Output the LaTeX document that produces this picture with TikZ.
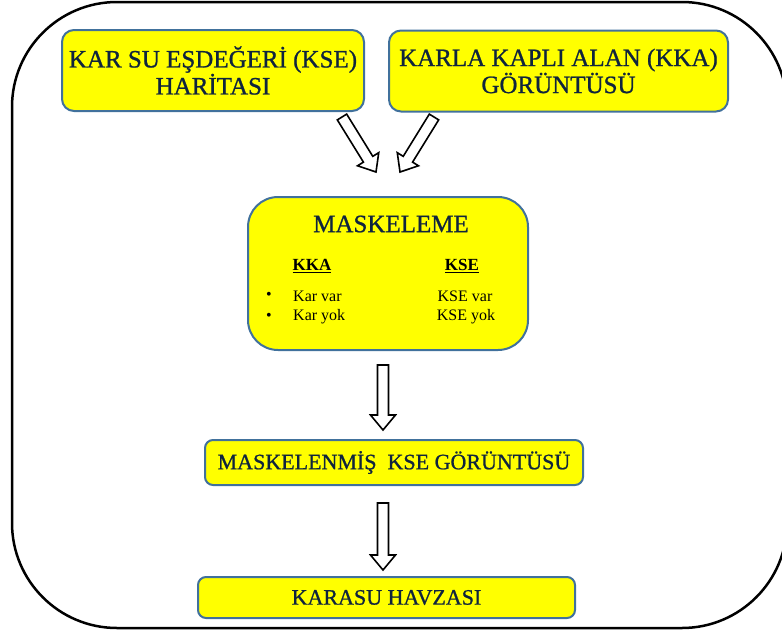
\documentclass[tikz,border=0pt]{standalone}
\usepackage{fontspec}
\setmainfont{Liberation Serif}
\newfontfamily\heavyserif[FakeBold=0.9]{Liberation Serif}
\usepackage{xcolor}
\definecolor{boxyellow}{HTML}{FFFF00}
\definecolor{boxedge}{HTML}{41719C}
\definecolor{navytxt}{HTML}{0F243E}
\usetikzlibrary{calc}
\tikzset{
  holarr/.style={draw=black, line width=1.6pt, fill=white, line join=miter},
}
% hollow block arrow between two named points
\newcommand{\hollowarrow}[2]{%
  \draw[holarr] let \p1=($(#2)-(#1)$), \n1={atan2(\y1,\x1)}, \n2={veclen(\x1,\y1)} in
    [shift={(#1)}, rotate=\n1]
    (0pt,-5.5pt) -- ({\n2-15pt},-5.5pt) -- ({\n2-15pt},-12.5pt) -- (\n2,0pt)
    -- ({\n2-15pt},12.5pt) -- ({\n2-15pt},5.5pt) -- (0pt,5.5pt) -- cycle;}

\begin{document}
\begin{tikzpicture}[
    x=1pt, y=-1pt,
    ybox/.style={draw=boxedge, line width=2pt, fill=boxyellow, align=center,
                 text=navytxt, inner sep=0pt},
    small/.style={font=\fontsize{16}{18}\selectfont, text=black, inner sep=0pt},
  ]
    \useasboundingbox (0,0) rectangle (782,632);

    % dis cerceve
    \draw[line width=2.5pt, rounded corners=105pt] (12,2) rectangle (787,628);

    % ust kutular
    \node[ybox, rounded corners=12pt, minimum width=302pt, minimum height=81pt,
          font=\heavyserif\fontsize{25}{27}\selectfont] (kse) at (213, 70.5)
          {KAR SU EŞDEĞERİ (KSE)\\HARİTASI};
    \node[ybox, rounded corners=12pt, minimum width=339pt, minimum height=81pt,
          font=\heavyserif\fontsize{25}{27}\selectfont] (kka) at (558.5, 71)
          {KARLA KAPLI ALAN (KKA)\\GÖRÜNTÜSÜ};

    % maskeleme
    \node[ybox, rounded corners=30pt, minimum width=280pt, minimum height=153pt]
          (mask) at (388, 273.5) {};
    \node[text=navytxt, font=\heavyserif\fontsize{25}{27}\selectfont, inner sep=0pt]
          (masktitle) at (391, 224) {MASKELEME};
    \node[small, font=\fontsize{17}{19}\selectfont\bfseries] (kkahead) at (312, 266) {\underline{KKA}};
    \node[small, font=\fontsize{17}{19}\selectfont\bfseries] (ksehead) at (462, 266) {\underline{KSE}};
    \node[small] (b1) at (269, 296) {•};
    \node[small] (b2) at (269, 317) {•};
    \node[small, anchor=west] (karvar) at (293, 296) {Kar var};
    \node[small, anchor=west] (karyok) at (293, 317) {Kar yok};
    \node[small] (ksevar) at (465, 296) {KSE var};
    \node[small] (kseyok) at (466, 317) {KSE yok};

    % alt kutular
    \node[ybox, rounded corners=8pt, minimum width=378pt, minimum height=45pt,
          font=\heavyserif\fontsize{22}{24}\selectfont] (masked) at (394, 462.5)
          {MASKELENMİŞ\ \ KSE GÖRÜNTÜSÜ};
    \node[ybox, rounded corners=8pt, minimum width=377pt, minimum height=41pt,
          font=\heavyserif\fontsize{22}{24}\selectfont] (basin) at (386.5, 597.5)
          {KARASU HAVZASI};

    % oklar
    \coordinate (a1s) at (342, 117);
    \coordinate (a1e) at (376, 172);
    \coordinate (a2s) at (434, 117);
    \coordinate (a2e) at (400, 172);
    \coordinate (a3s) at (383, 365);
    \coordinate (a3e) at (383, 430);
    \coordinate (a4s) at (383, 503);
    \coordinate (a4e) at (383, 570);
    \hollowarrow{a1s}{a1e}
    \hollowarrow{a2s}{a2e}
    \hollowarrow{a3s}{a3e}
    \hollowarrow{a4s}{a4e}
  \end{tikzpicture}
\end{document}
